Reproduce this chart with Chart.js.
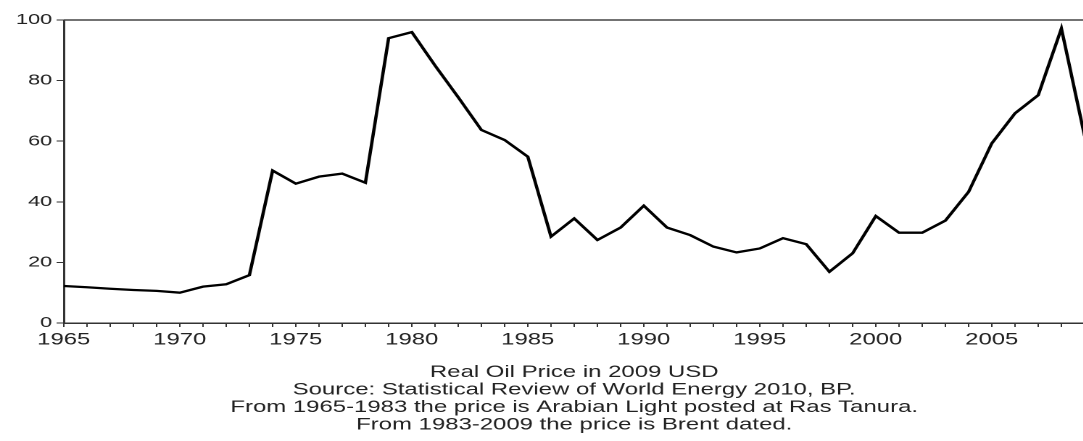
<!DOCTYPE html>
<html>
<head>
<meta charset="utf-8">
<script src="https://cdn.jsdelivr.net/npm/chart.js@4/dist/chart.umd.min.js"></script>
<style>
  body { margin: 0; overflow: hidden; background: #fff; }
  /* the source picture is stretched sideways, so the whole canvas is too */
  #wrap { width: 752px; height: 441px; transform: scaleX(1.45); transform-origin: 0 0; }
</style>
</head>
<body>
<div id="wrap"><canvas id="oilChart" width="752" height="441" style="width:752px;height:441px"></canvas></div>
<script>
// years on the x axis
const years = [
  '1965', '1966', '1967', '1968', '1969', '1970', '1971', '1972', '1973', '1974',
  '1975', '1976', '1977', '1978', '1979', '1980', '1981', '1982', '1983', '1984',
  '1985', '1986', '1987', '1988', '1989', '1990', '1991', '1992', '1993', '1994',
  '1995', '1996', '1997', '1998', '1999', '2000', '2001', '2002', '2003', '2004',
  '2005', '2006', '2007', '2008', '2009'
];

// real oil price, 2009 USD
const realPrice = [
  12.2, 11.8, 11.3, 10.9, 10.6, 10.0, 12.0, 12.8, 15.8, 50.3,
  46.0, 48.3, 49.3, 46.3, 94.0, 96.0, 85.0, 74.5, 63.7, 60.4,
  54.9, 28.5, 34.5, 27.4, 31.5, 38.7, 31.5, 29.0, 25.2, 23.3,
  24.6, 28.0, 26.0, 16.9, 23.0, 35.3, 29.8, 29.8, 33.8, 43.3,
  59.3, 69.2, 75.2, 97.2, 61.7
];

const xTickLabels = ['1965', '1970', '1975', '1980', '1985', '1990', '1995', '2000', '2005'];
const yTickValues = [0, 20, 40, 60, 80, 100];

const caption = [
  'Real Oil Price in 2009 USD',
  'Source: Statistical Review of World Energy 2010, BP.',
  'From 1965-1983 the price is Arabian Light posted at Ras Tanura.',
  'From 1983-2009 the price is Brent dated.'
];

// top edge of the frame
const topFrame = {
  id: 'topFrame',
  afterDraw(chart) {
    const { ctx, chartArea } = chart;
    ctx.save();
    ctx.strokeStyle = '#444';
    ctx.lineWidth = 1.5;
    ctx.beginPath();
    ctx.moveTo(chartArea.left, chartArea.top);
    ctx.lineTo(chartArea.right + 2, chartArea.top);
    ctx.stroke();
    ctx.restore();
  }
};

new Chart(document.getElementById('oilChart'), {
  type: 'line',
  data: {
    labels: years,
    datasets: [{
      label: 'Real Oil Price',
      data: realPrice,
      borderColor: '#000',
      borderWidth: 2.3,
      pointRadius: 0,
      tension: 0,
      fill: false
    }]
  },
  options: {
    responsive: false,
    animation: false,
    devicePixelRatio: 2,
    layout: { padding: { top: 20, right: 4, left: 0, bottom: 6 } },
    plugins: {
      legend: { display: false },
      tooltip: { enabled: false }
    },
    scales: {
      x: {
        offset: false,
        afterFit: (scale) => { scale.height = 112; },
        border: { display: true, color: '#333', width: 1.5 },
        grid: { drawOnChartArea: false, tickLength: 4, tickColor: '#333', tickWidth: 1 },
        ticks: {
          autoSkip: false,
          maxRotation: 0,
          padding: 3,
          color: '#222',
          font: { family: '"Liberation Sans", Arial, sans-serif', size: 16.5 },
          callback: function (value) {
            const lbl = this.getLabelForValue(value);
            return xTickLabels.includes(lbl) ? lbl : '';
          }
        },
        title: {
          display: true,
          text: caption,
          color: '#222',
          font: { family: '"Liberation Sans", Arial, sans-serif', size: 16.5, lineHeight: 1.07 },
          padding: { top: 0, bottom: 1 }
        }
      },
      y: {
        min: 0,
        max: 100,
        afterFit: (scale) => { scale.width = 44; },
        afterBuildTicks: (scale) => { scale.ticks = yTickValues.map(v => ({ value: v })); },
        border: { display: true, color: '#333', width: 1.5 },
        grid: { drawOnChartArea: false, tickLength: 5, tickColor: '#333' },
        ticks: {
          padding: 3,
          color: '#222',
          font: { family: '"Liberation Sans", Arial, sans-serif', size: 15 }
        }
      }
    }
  },
  plugins: [topFrame]
});
</script>
</body>
</html>
